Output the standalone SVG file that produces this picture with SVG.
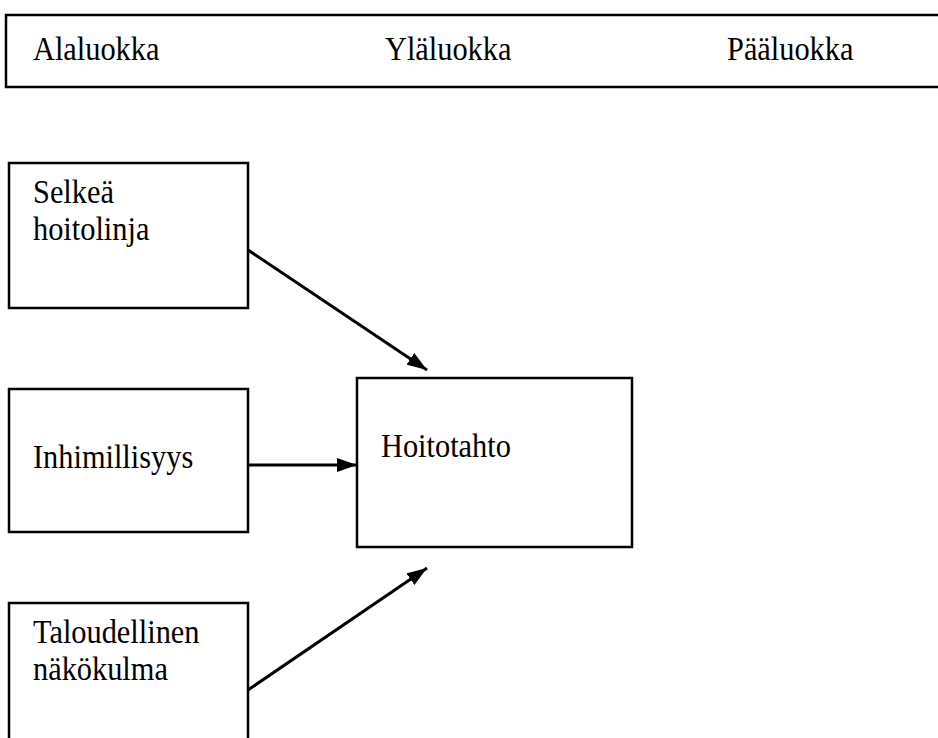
<svg xmlns="http://www.w3.org/2000/svg" width="938" height="738" viewBox="0 0 938 738">
<defs>
<marker id="a" viewBox="0 0 20 14" refX="20" refY="7" markerWidth="20" markerHeight="14" markerUnits="userSpaceOnUse" orient="auto">
<path d="M0,0 L20,7 L0,14 Z" fill="#000"/>
</marker>
</defs>
<style>
.box{fill:#fff;stroke:#000;stroke-width:2.5}
.t{font-family:'Liberation Serif','Times New Roman',Tinos,serif;font-size:33px;fill:#000}
.c{stroke:#000;stroke-width:3;fill:none}
</style>
<rect width="938" height="738" fill="#fff"/>
<g id="header">
<rect class="box" x="6" y="15" width="940" height="72"/>
<text class="t" transform="translate(33,60) scale(0.92,1.02)">Alaluokka</text>
<text class="t" transform="translate(385,60) scale(0.92,1.02)">Yläluokka</text>
<text class="t" transform="translate(727,60) scale(0.92,1.02)">Pääluokka</text>
</g>
<g id="selkea">
<rect class="box" x="9" y="163" width="239" height="145"/>
<text class="t" transform="translate(33,203) scale(0.92,1.02)">Selkeä</text>
<text class="t" transform="translate(33,240) scale(0.92,1.02)">hoitolinja</text>
</g>
<g id="inhimillisyys">
<rect class="box" x="9" y="389" width="239" height="143"/>
<text class="t" transform="translate(33,468) scale(0.92,1.02)">Inhimillisyys</text>
</g>
<g id="hoitotahto">
<rect class="box" x="357" y="378" width="275" height="169"/>
<text class="t" transform="translate(381,457) scale(0.92,1.02)">Hoitotahto</text>
</g>
<g id="taloudellinen">
<rect class="box" x="9" y="603" width="239" height="145"/>
<text class="t" transform="translate(33,643) scale(0.92,1.02)">Taloudellinen</text>
<text class="t" transform="translate(33,680) scale(0.92,1.02)">näkökulma</text>
</g>
<g id="connectors">
<line class="c" x1="248" y1="250" x2="427" y2="370" marker-end="url(#a)"/>
<line class="c" x1="248" y1="465" x2="357" y2="465" marker-end="url(#a)"/>
<line class="c" x1="248" y1="690" x2="427" y2="568" marker-end="url(#a)"/>
</g>
</svg>
